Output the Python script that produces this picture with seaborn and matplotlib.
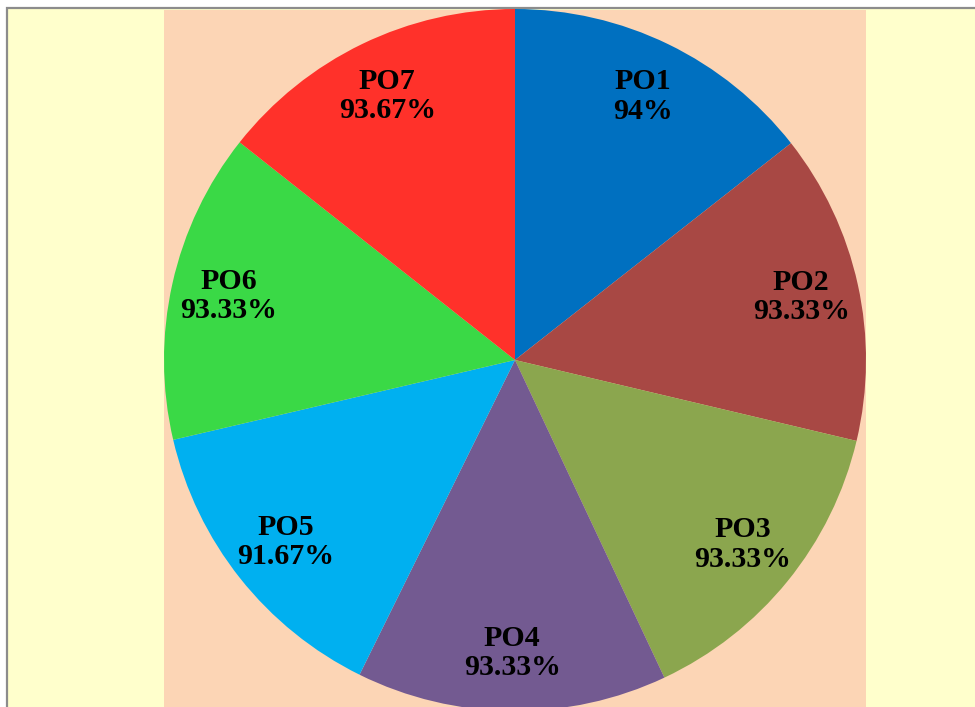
import numpy as np
import matplotlib
matplotlib.use("Agg")
import matplotlib.pyplot as plt
from matplotlib.patches import Rectangle
import seaborn as sns

# chart data
labels = ["PO1", "PO2", "PO3", "PO4", "PO5", "PO6", "PO7"]
values = [94, 93.33, 93.33, 93.33, 91.67, 93.33, 93.67]
value_text = ["94%", "93.33%", "93.33%", "93.33%", "91.67%", "93.33%", "93.67%"]
slice_colors = ["#0070C0", "#A84844", "#8BA64E", "#735A91", "#00B0F0", "#3AD946", "#FF312A"]

sns.set_theme(style="white")
plt.rcParams["font.family"] = ["Liberation Serif", "DejaVu Serif"]

W, H = 975, 707
fig = plt.figure(figsize=(W / 100, H / 100), dpi=100)
fig.patch.set_facecolor("white")

# outer chart area with gray border (runs off right/bottom edges)
fig.add_artist(Rectangle((7 / W, -0.05), 1.1, (H - 8) / H + 0.05,
                         transform=fig.transFigure, facecolor="#FFFFCC",
                         edgecolor="#8C8C8C", linewidth=1.6, zorder=-10))

# plot area
ax = fig.add_axes([164 / W, 0, 702 / W, (H - 10) / H])
ax.set_zorder(1)
palette = sns.color_palette(slice_colors)
wedges, _ = ax.pie(values, colors=palette, startangle=90, counterclock=False,
                   radius=1, wedgeprops=dict(linewidth=0))

ax.set_frame_on(True)
for sp in ax.spines.values():
    sp.set_visible(False)
ax.set_facecolor("#FCD5B5")
ax.set_aspect("auto")
r_px = 351.0
ax.set_xlim(-1, 1)
ax.set_ylim(-(H - 360) / r_px, (360 - 10) / r_px)
ax.set_xticks([])
ax.set_yticks([])

# labels placed inside each wedge
for w, lab, vt in zip(wedges, labels, value_text):
    ang = np.deg2rad((w.theta1 + w.theta2) / 2)
    d = 0.835
    ax.text(d * np.cos(ang), d * np.sin(ang), f"{lab}\n{vt}", ha="center", va="center",
            fontsize=21.5, fontweight="bold", color="black", linespacing=1.12)

fig.savefig("out.png", dpi=100, facecolor=fig.get_facecolor())
